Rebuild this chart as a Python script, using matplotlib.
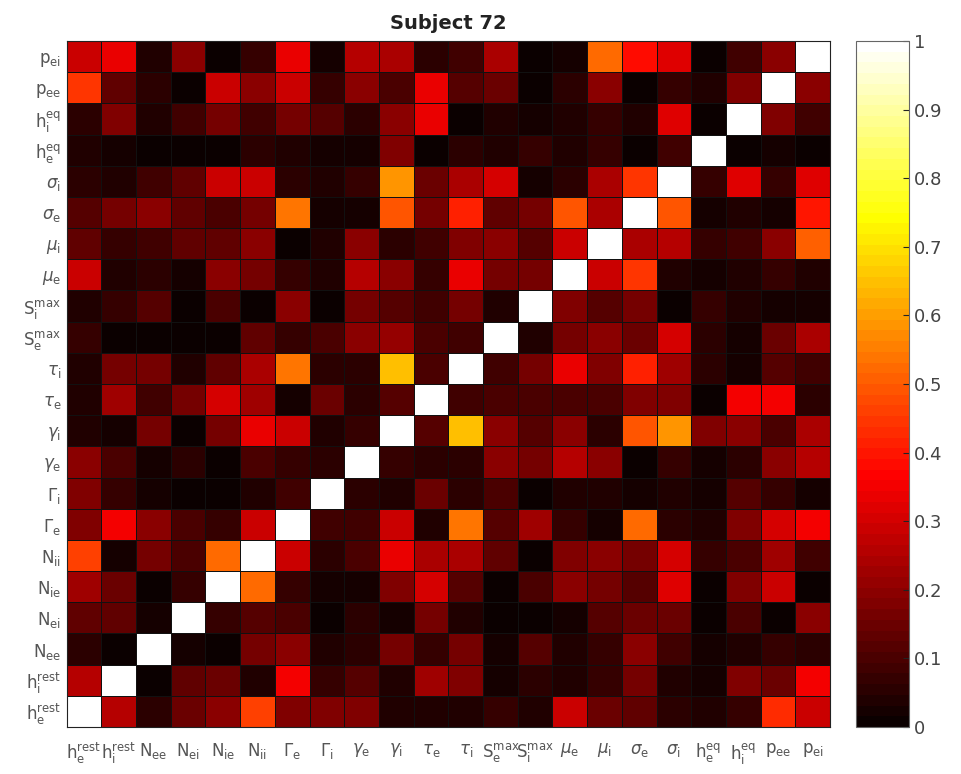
import numpy as np
import matplotlib
matplotlib.use("Agg")
import matplotlib.pyplot as plt
from matplotlib.colors import ListedColormap

# parameter names, bottom/left to top/right
labels = [
    r"$\mathregular{h_e^{rest}}$", r"$\mathregular{h_i^{rest}}$",
    r"$\mathregular{N_{ee}}$", r"$\mathregular{N_{ei}}$",
    r"$\mathregular{N_{ie}}$", r"$\mathregular{N_{ii}}$",
    r"$\Gamma_\mathregular{e}$", r"$\Gamma_\mathregular{i}$",
    r"$\gamma_\mathregular{e}$", r"$\gamma_\mathregular{i}$",
    r"$\tau_\mathregular{e}$", r"$\tau_\mathregular{i}$",
    r"$\mathregular{S_e^{max}}$", r"$\mathregular{S_i^{max}}$",
    r"$\mu_\mathregular{e}$", r"$\mu_\mathregular{i}$",
    r"$\sigma_\mathregular{e}$", r"$\sigma_\mathregular{i}$",
    r"$\mathregular{h_e^{eq}}$", r"$\mathregular{h_i^{eq}}$",
    r"$\mathregular{p_{ee}}$", r"$\mathregular{p_{ei}}$",
]

# |correlation| between parameters, one row per parameter (same order as labels)
corr = [
    [1, .265, .05, .15, .2, .46, .18, .18, .18, .045, .035, .035, .07, .045, .29, .15, .125, .06, .045, .065, .435, .29],
    [.265, 1, .015, .13, .155, .035, .345, .07, .11, .035, .23, .175, .02, .06, .045, .065, .16, .045, .03, .175, .15, .345],
    [.06, .015, 1, .03, .015, .16, .19, .035, .05, .16, .065, .17, .02, .12, .045, .065, .19, .08, .02, .035, .065, .06],
    [.13, .13, .02, 1, .065, .12, .095, .015, .06, .02, .16, .045, .015, .015, .03, .12, .15, .15, .015, .1, .015, .19],
    [.22, .15, .015, .07, 1, .52, .065, .02, .02, .175, .31, .12, .015, .1, .2, .16, .11, .315, .015, .175, .29, .015],
    [.455, .03, .16, .1, .52, 1, .29, .06, .1, .33, .235, .24, .13, .015, .175, .2, .17, .31, .065, .095, .22, .08],
    [.175, .345, .19, .1, .065, .29, 1, .09, .08, .29, .035, .54, .12, .22, .07, .02, .52, .06, .045, .175, .31, .345],
    [.175, .07, .03, .015, .015, .045, .09, 1, .06, .035, .155, .06, .095, .015, .045, .035, .02, .035, .02, .11, .07, .03],
    [.19, .1, .03, .06, .015, .1, .07, .06, 1, .07, .05, .05, .2, .16, .265, .2, .015, .065, .02, .05, .19, .25],
    [.045, .03, .16, .015, .16, .33, .29, .035, .07, 1, .12, .655, .2, .11, .2, .05, .485, .59, .175, .2, .1, .24],
    [.045, .22, .08, .16, .31, .22, .03, .155, .05, .12, 1, .09, .1, .095, .095, .095, .175, .175, .015, .345, .345, .06],
    [.035, .17, .16, .045, .13, .24, .545, .06, .06, .655, .1, 1, .08, .16, .34, .175, .42, .22, .06, .02, .12, .09],
    [.065, .015, .015, .015, .015, .125, .065, .095, .2, .21, .1, .09, 1, .035, .17, .19, .15, .31, .05, .03, .15, .235],
    [.035, .07, .12, .015, .1, .015, .2, .015, .16, .12, .08, .16, .035, 1, .175, .11, .17, .015, .065, .035, .02, .02],
    [.29, .045, .05, .03, .2, .16, .065, .035, .265, .2, .07, .34, .17, .17, 1, .29, .45, .045, .03, .045, .065, .035],
    [.13, .065, .08, .125, .14, .2, .015, .035, .2, .05, .08, .175, .19, .11, .29, 1, .24, .26, .07, .08, .19, .515],
    [.12, .16, .19, .13, .1, .16, .54, .02, .02, .485, .16, .42, .14, .17, .49, .24, 1, .485, .02, .035, .02, .4],
    [.06, .045, .09, .13, .29, .29, .05, .035, .065, .59, .15, .24, .3, .02, .06, .24, .45, 1, .07, .32, .07, .32],
    [.035, .02, .015, .015, .015, .06, .035, .02, .02, .175, .015, .05, .045, .065, .035, .065, .015, .08, 1, .015, .03, .015],
    [.05, .175, .035, .09, .16, .08, .16, .12, .05, .2, .34, .015, .035, .03, .045, .065, .035, .32, .015, 1, .175, .08],
    [.45, .13, .06, .015, .29, .19, .29, .07, .19, .1, .34, .11, .15, .015, .06, .19, .015, .065, .035, .175, 1, .2],
    [.29, .34, .045, .2, .015, .07, .34, .03, .25, .24, .05, .08, .235, .015, .03, .52, .39, .32, .015, .08, .2, 1],
]

# 64-step "hot" map, black -> red -> yellow -> white
n = 64
n1 = 3 * n // 8
r = np.concatenate([np.arange(1, n1 + 1) / n1, np.ones(n - n1)])
g = np.concatenate([np.zeros(n1), np.arange(1, n1 + 1) / n1, np.ones(n - 2 * n1)])
b = np.concatenate([np.zeros(2 * n1), np.arange(1, n - 2 * n1 + 1) / (n - 2 * n1)])
hot64 = ListedColormap(np.column_stack([r, g, b]))

M = np.array(corr)
k = len(labels)

fig = plt.figure(figsize=(9.61, 7.74), dpi=100)
ax = fig.add_axes([0.0694, 0.0607, 0.7943, 0.8863])
mesh = ax.pcolormesh(np.arange(k + 1), np.arange(k + 1), M, cmap=hot64,
                     vmin=0, vmax=1, edgecolors="#111111", linewidth=0.7)
ax.set_xlim(0, k)
ax.set_ylim(0, k)
ax.set_xticks(np.arange(k) + 0.5)
ax.set_yticks(np.arange(k) + 0.5)
ax.set_xticklabels(labels, fontsize=12, color="#555555")
ax.set_yticklabels(labels, fontsize=12, color="#555555")
ax.tick_params(length=0)
ax.tick_params(axis="x", pad=10)
ax.tick_params(axis="y", pad=4)
for s in ax.spines.values():
    s.set_color("#222222")
ax.set_title("Subject 72", fontsize=14, fontweight="bold", color="#222222", pad=9)

cax = fig.add_axes([0.891, 0.0607, 0.055, 0.8863])
cb = fig.colorbar(mesh, cax=cax, ticks=np.arange(0, 1.01, 0.1))
cb.ax.set_yticklabels(["0", "0.1", "0.2", "0.3", "0.4", "0.5", "0.6", "0.7", "0.8", "0.9", "1"])
cb.ax.tick_params(direction="in", length=4, labelsize=13, labelcolor="#444444", color="#222222")
cb.outline.set_edgecolor("#666666")

fig.savefig("out.png", dpi=100)
